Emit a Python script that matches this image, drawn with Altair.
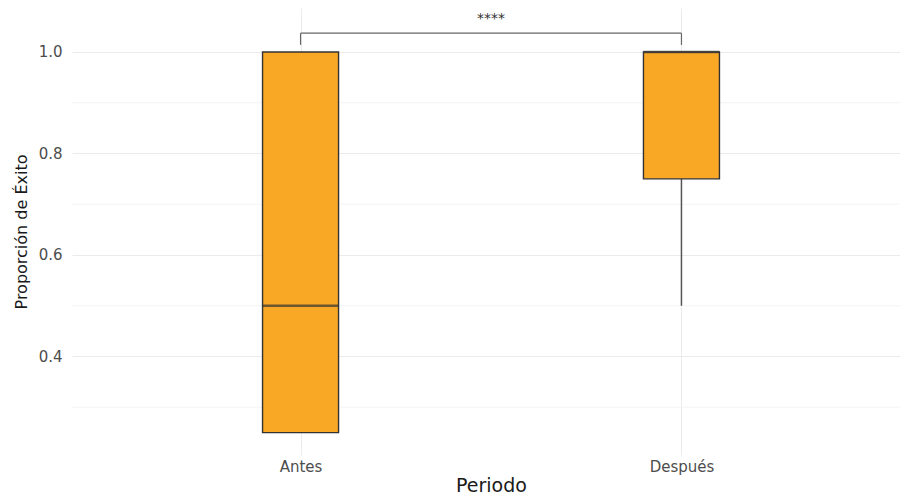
import altair as alt
import pandas as pd

# ---- data ----
categories = ["Antes", "Después"]
q1 = [0.25, 0.75]
median = [0.50, 1.00]
q3 = [1.00, 1.00]
whisker_low = [0.25, 0.50]
whisker_high = [1.00, 1.00]

y_ticks = [0.4, 0.6, 0.8, 1.0]
y_minor = [0.3, 0.5, 0.7, 0.9]

sig_label = "****"
bracket_y = 1.037
bracket_leg = 1.014
sig_text_y = 1.065

pos = [i + 1 for i in range(len(categories))]
box = pd.DataFrame({
    "pos": pos, "Periodo": categories, "q1": q1, "median": median,
    "q3": q3, "lo": whisker_low, "hi": whisker_high,
})
minor = pd.DataFrame({"y": y_minor})
bracket_h = pd.DataFrame({"x": [pos[0]], "x2": [pos[1]], "y": [bracket_y]})
bracket_v = pd.DataFrame({"x": pos, "y": [bracket_leg] * 2, "y2": [bracket_y] * 2})
sig = pd.DataFrame({"x": [(pos[0] + pos[1]) / 2], "y": [sig_text_y], "t": [sig_label]})

FONT = "DejaVu Sans"
label_expr = " : ".join(
    [f"datum.value == {p} ? '{c}'" for p, c in zip(pos[:-1], categories[:-1])]
    + [f"'{categories[-1]}'"]
)

xscale = alt.Scale(domain=[0.4, 2.6], range=[0, 838], nice=False, zero=False, padding=0)
yscale = alt.Scale(domain=[0.2059, 1.0867], nice=False, zero=False, padding=0)

xaxis = alt.Axis(
    title="Periodo", values=pos, labelExpr=label_expr, ticks=False, domain=False,
    grid=True, gridColor="#EBEBEB", gridWidth=1, labelFont=FONT, labelFontSize=15,
    labelColor="#4D4D4D", labelPadding=4, titleFont=FONT, titleFontSize=19,
    titleFontWeight="normal", titleColor="#1A1A1A", titlePadding=2,
)
yaxis = alt.Axis(
    title="Proporción de Éxito", values=y_ticks, format=".1f", ticks=False,
    domain=False, grid=True, gridColor="#EBEBEB", gridWidth=1, labelFont=FONT,
    labelFontSize=15, labelColor="#4D4D4D", labelPadding=10, titleFont=FONT,
    titleFontSize=16, titleFontWeight="normal", titleColor="#1A1A1A",
    titlePadding=9,
)

base = alt.Chart(box)

minor_grid = alt.Chart(minor).mark_rule(color="#EFEFEF", strokeWidth=0.7).encode(
    y=alt.Y("y:Q", scale=yscale, axis=yaxis)
)

whisk_low = base.mark_rule(color="#555555", strokeWidth=1.5).encode(
    x=alt.X("pos:Q", scale=xscale, axis=xaxis),
    y=alt.Y("lo:Q", scale=yscale, axis=yaxis),
    y2="q1:Q",
)
whisk_high = base.mark_rule(color="#555555", strokeWidth=1.5).encode(
    x=alt.X("pos:Q", scale=xscale, axis=xaxis),
    y=alt.Y("q3:Q", scale=yscale, axis=yaxis),
    y2="hi:Q",
)
boxes = base.mark_bar(size=76, color="#F9A825", stroke="#333333", strokeWidth=1.4).encode(
    x=alt.X("pos:Q", scale=xscale, axis=xaxis),
    y=alt.Y("q1:Q", scale=yscale, axis=yaxis),
    y2="q3:Q",
)
medians = base.mark_tick(size=76, thickness=2.6, color="#333333", orient="horizontal").encode(
    x=alt.X("pos:Q", scale=xscale, axis=xaxis),
    y=alt.Y("median:Q", scale=yscale, axis=yaxis),
)

br_h = alt.Chart(bracket_h).mark_rule(color="#666666", strokeWidth=1.2).encode(
    x=alt.X("x:Q", scale=xscale, axis=xaxis), x2="x2:Q",
    y=alt.Y("y:Q", scale=yscale, axis=yaxis),
)
br_v = alt.Chart(bracket_v).mark_rule(color="#666666", strokeWidth=1.2).encode(
    x=alt.X("x:Q", scale=xscale, axis=xaxis),
    y=alt.Y("y:Q", scale=yscale, axis=yaxis), y2="y2:Q",
)
sig_text = alt.Chart(sig).mark_text(font=FONT, fontSize=14, color="#333333").encode(
    x=alt.X("x:Q", scale=xscale, axis=xaxis),
    y=alt.Y("y:Q", scale=yscale, axis=yaxis),
    text="t:N",
)

chart = alt.layer(
    minor_grid, whisk_low, whisk_high, boxes, medians, br_h, br_v, sig_text
).properties(
    width=828, height=447,
    autosize=alt.AutoSizeParams(type="none"),
    padding={"left": 64, "top": 0, "right": 0, "bottom": 40},
    background="white",
).configure_view(stroke=None)

chart.save("out.html", embed_options={"renderer": "svg", "actions": False})
